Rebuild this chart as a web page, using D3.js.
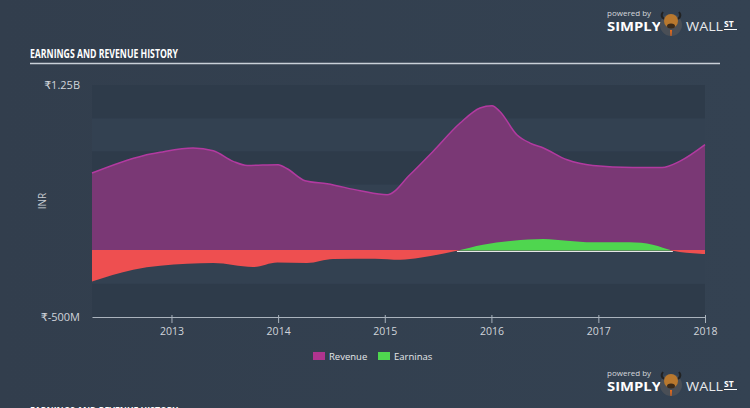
<!DOCTYPE html>
<html><head><meta charset="utf-8">
<script src="https://cdn.jsdelivr.net/npm/d3@7"></script>
<style>
html,body{margin:0;padding:0;background:#333f4f;}
svg{display:block;}
text{font-family:"Open Sans","DejaVu Sans",sans-serif;}
</style></head>
<body>
<svg id="chart" width="750" height="408"></svg>
<script>
// ---- data ----
const revenueDates = ["2012-04-04","2012-09-26","2012-11-23","2013-03-16","2013-05-24","2013-07-31","2013-09-17","2014-01-01","2014-02-01","2014-04-03","2014-06-18","2014-10-09","2015-01-09","2015-03-28","2015-06-15","2015-09-16","2015-11-23","2016-01-03","2016-01-30","2016-03-28","2016-05-12","2016-06-27","2016-09-16","2016-12-13","2017-04-29","2017-08-07","2017-10-06","2018-01-01"];
const revenueValues = [586,717,742,775,754,674,643,649,618,528,505,452,422,573,749,963,1076,1094,1050,875,812,775,686,643,628,628,674,800]; // INR millions
const earningsDates = ["2012-04-04","2012-08-23","2013-02-24","2013-05-24","2013-10-07","2013-12-29","2014-04-10","2014-07-08","2014-11-29","2015-02-23","2015-05-01","2015-09-05","2015-12-03","2016-03-14","2016-06-27","2016-09-16","2016-12-13","2017-04-19","2017-07-06","2017-09-13","2017-12-14","2018-01-01"];
const earningsValues = [-232,-143,-98,-93,-123,-88,-93,-63,-60,-68,-53,0,45,75,88,75,63,63,45,0,-23,-25];
const yTickValues = [1250,-500];
const yTickLabels = ["₹1.25B","₹-500M"];
const xTickYears = [2013,2014,2015,2016,2017,2018];
const legendLabels = ["Revenue","Earninas"];
const title = "EARNINGS AND REVENUE HISTORY";

const parse = d3.timeParse("%Y-%m-%d");
const rev = revenueDates.map((d,i)=>({date:parse(d),v:revenueValues[i]}));
const earn = earningsDates.map((d,i)=>({date:parse(d),v:earningsValues[i]}));

const svg = d3.select("#chart");
const L=92,R=705,T=85,B=317;

// background gradient
const defs = svg.append("defs");
const bg = defs.append("linearGradient").attr("id","bg").attr("x1","0").attr("x2","1").attr("y1","0").attr("y2","0");
bg.append("stop").attr("offset","0").attr("stop-color","#323e4d");
bg.append("stop").attr("offset","1").attr("stop-color","#344252");
svg.append("rect").attr("width",750).attr("height",408).attr("fill","url(#bg)");

const x = d3.scaleTime().domain([parse("2012-04-04"),parse("2018-01-01")]).range([L,R]);
const y = d3.scaleLinear().domain([-500,1250]).range([B,T]);

// bands
const bandEdges = d3.range(-500,1251,250);
for(let i=0;i<bandEdges.length-1;i++){
  const lo=bandEdges[i],hi=bandEdges[i+1];
  const idxFromTop = bandEdges.length-2-i;
  svg.append("rect").attr("x",L).attr("width",R-L)
    .attr("y",y(hi)).attr("height",y(lo)-y(hi))
    .attr("fill", idxFromTop%2===0 ? "#2e3b4a" : "#334151");
}

// title
svg.append("text").attr("x",30).attr("y",58).text(title)
  .attr("fill","#ffffff").attr("font-family","'Liberation Sans Narrow','DejaVu Sans Condensed',sans-serif")
  .attr("font-weight","bold").attr("font-size",13).attr("textLength",148).attr("lengthAdjust","spacingAndGlyphs");
svg.append("line").attr("x1",30).attr("x2",720).attr("y1",63.5).attr("y2",63.5)
  .attr("stroke","#c9d0d8").attr("stroke-width",1.5);

// revenue area
const areaRev = d3.area().x(d=>x(d.date)).y0(y(0)).y1(d=>y(d.v)).curve(d3.curveMonotoneX);
const lineRev = d3.line().x(d=>x(d.date)).y(d=>y(d.v)).curve(d3.curveMonotoneX);
svg.append("path").datum(rev).attr("d",areaRev).attr("fill","#7a3875");
svg.append("path").datum(rev).attr("d",lineRev).attr("fill","none").attr("stroke","#b23aa0").attr("stroke-width",1.5);

// zero line visible only under the positive earnings stretch
const posPts = earn.filter(d=>d.v>=0);
const z0 = d3.min(posPts,d=>d.date), z1 = d3.max(posPts,d=>d.date);
svg.append("line").attr("x1",x(z0)).attr("x2",x(z1)).attr("y1",y(0)+0.8).attr("y2",y(0)+0.8)
  .attr("stroke","#e6e6e6").attr("stroke-width",1.2);

// earnings area split by sign
defs.append("clipPath").attr("id","pos").append("rect").attr("x",0).attr("y",0).attr("width",750).attr("height",y(0));
defs.append("clipPath").attr("id","neg").append("rect").attr("x",0).attr("y",y(0)-0.8).attr("width",750).attr("height",408);
const areaE = d3.area().x(d=>x(d.date)).y0(y(0)-0.8).y1(d=>y(d.v)).curve(d3.curveMonotoneX);
const areaEpos = d3.area().x(d=>x(d.date)).y0(y(0)).y1(d=>y(d.v)).curve(d3.curveMonotoneX);
svg.append("path").datum(earn).attr("d",areaEpos).attr("fill","#4fd64f").attr("clip-path","url(#pos)");
svg.append("path").datum(earn).attr("d",areaE).attr("fill","#ee4f50").attr("clip-path","url(#neg)");

// y labels
yTickValues.forEach((v,i)=>{
  svg.append("text").attr("x",80).attr("y",y(v)+4).attr("text-anchor","end")
    .attr("fill","#d0d4da").attr("font-size",11).text(yTickLabels[i]);
});
svg.append("text").attr("transform","translate(46,201) rotate(-90)").attr("text-anchor","middle")
  .attr("fill","#c8ccd2").attr("font-size",10).text("INR");

// x axis
const xAxis = d3.axisBottom(x).tickValues(xTickYears.map(yr=>new Date(yr,0,1)))
  .tickFormat(d3.timeFormat("%Y")).tickSize(6).tickSizeOuter(0);
const gx = svg.append("g").attr("transform",`translate(0,${B})`).call(xAxis);
gx.select(".domain").attr("stroke","#aab3bd").attr("stroke-width",1.2);
gx.selectAll(".tick line").attr("stroke","#aab3bd").attr("y1",-2);
gx.selectAll(".tick text").attr("fill","#d0d4da").attr("font-size",10.5)
  .attr("font-family","'Open Sans',sans-serif").attr("dy","0.9em");

// legend
const legColors = ["#b0348f","#4fd64f"];
const legX = [313,378];
legendLabels.forEach((t,i)=>{
  svg.append("rect").attr("x",legX[i]).attr("y",352).attr("width",12).attr("height",8).attr("fill",legColors[i]);
  svg.append("text").attr("x",legX[i]+16).attr("y",359.5).attr("fill","#e4e7ea").attr("font-size",9.5).text(t);
});

// logos
function logo(oy){
  const g = svg.append("g").attr("transform",`translate(0,${oy})`);
  g.append("text").attr("x",607).attr("y",16).attr("fill","#d5d8dc").attr("font-size",8).text("powered by");
  g.append("text").attr("x",607).attr("y",30.5).attr("fill","#ffffff").attr("font-size",12).attr("font-weight","bold")
    .attr("textLength",54).attr("lengthAdjust","spacingAndGlyphs").text("SIMPLY");
  g.append("circle").attr("cx",671).attr("cy",25).attr("r",11).attr("fill","#4a4f56");
  g.append("path").attr("d","M663,12 Q660,16 664,19 M679,12 Q682,16 678,19").attr("stroke","#222").attr("stroke-width",2).attr("fill","none");
  g.append("ellipse").attr("cx",671).attr("cy",21).attr("rx",7).attr("ry",7).attr("fill","#b8782e");
  g.append("ellipse").attr("cx",671).attr("cy",26).attr("rx",4).attr("ry",2.5).attr("fill","#3a2a1a");
  g.append("path").attr("d","M670,30 L672,30 L671.5,36 L670.5,36Z").attr("fill","#e86a1a");
  g.append("text").attr("x",686).attr("y",30.5).attr("fill","#e8eaec").attr("font-size",12)
    .attr("textLength",37).attr("lengthAdjust","spacingAndGlyphs").text("WALL");
  g.append("text").attr("x",724).attr("y",27).attr("fill","#ffffff").attr("font-size",8.5).attr("font-weight","bold").text("ST");
  g.append("line").attr("x1",724).attr("x2",737).attr("y1",29.5).attr("y2",29.5).attr("stroke","#fff").attr("stroke-width",1);
}
logo(0); logo(360);

// cut-off title at bottom (as in the reference)
svg.append("text").attr("x",30).attr("y",416).text(title)
  .attr("fill","#ffffff").attr("font-family","'Liberation Sans Narrow','DejaVu Sans Condensed',sans-serif")
  .attr("font-weight","bold").attr("font-size",13).attr("textLength",148).attr("lengthAdjust","spacingAndGlyphs");
</script>
</body></html>
